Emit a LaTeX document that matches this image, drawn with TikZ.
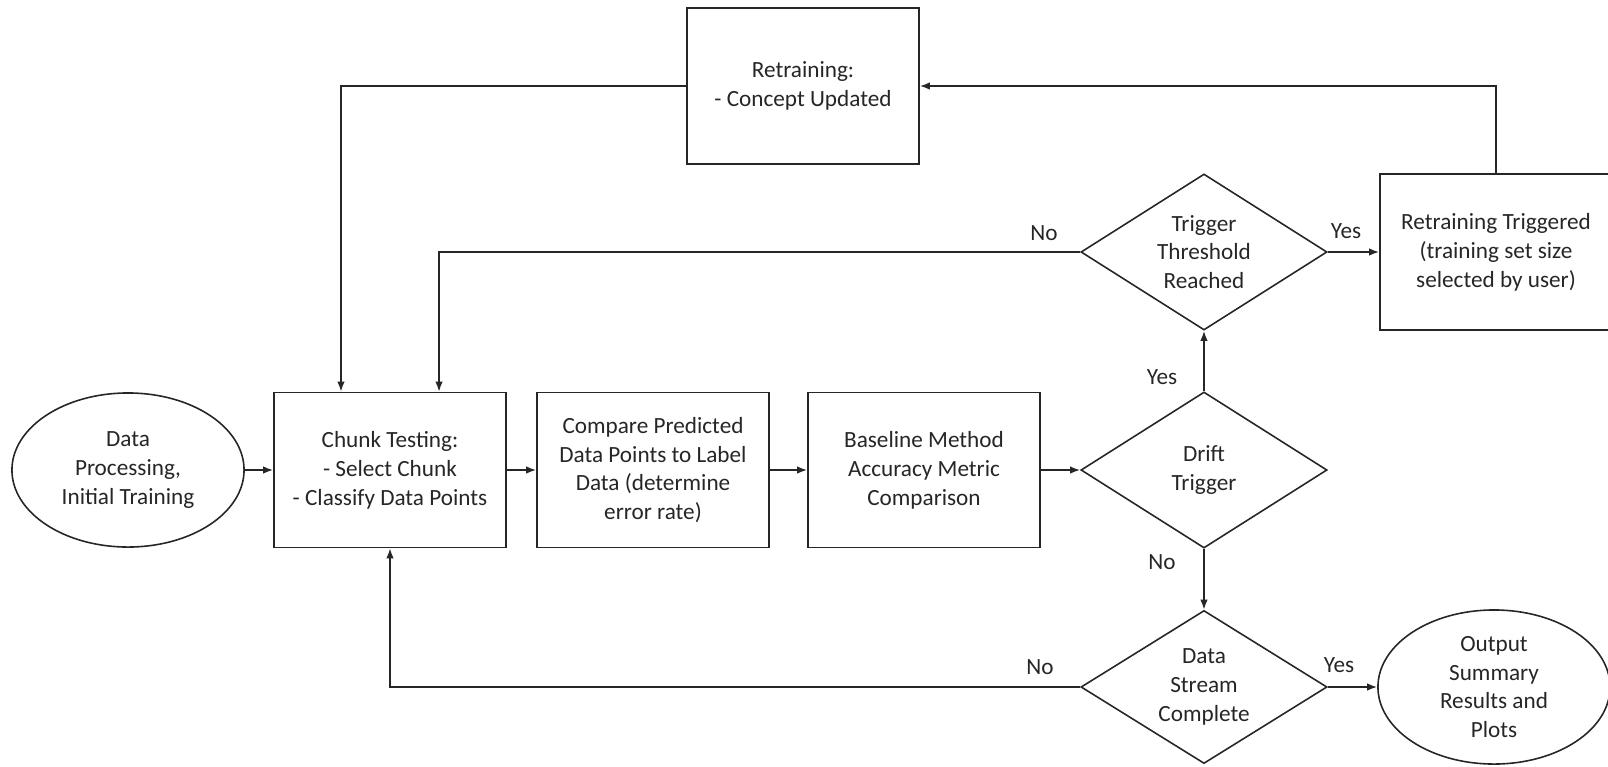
\documentclass[tikz,border=0pt]{standalone}
\usepackage{fontspec}
\setmainfont{Carlito}
\usetikzlibrary{shapes.geometric,arrows.meta}
\definecolor{ink}{HTML}{262626}

\begin{document}
\begin{tikzpicture}[x=0.01cm, y=-0.01cm,
    font=\fontsize{6.6}{8.2}\selectfont, text=ink,
    procbox/.style={draw=ink, line width=0.45pt, minimum width=2.32cm, minimum height=1.55cm, inner sep=0pt, align=center},
    ovalbox/.style={draw=ink, line width=0.45pt, ellipse, minimum width=2.32cm, minimum height=1.54cm, inner sep=0pt, align=center},
    choice/.style={draw=ink, line width=0.45pt, diamond, shape aspect=1.55, minimum width=2.46cm, minimum height=1.56cm, inner sep=0pt, align=center},
    flow/.style={draw=ink, line width=0.45pt, -{Latex[length=1mm,width=0.75mm]}},
    answer/.style={inner sep=0pt}]

    \useasboundingbox (0,0) rectangle (1608,766);

    % MAIN ROW (left to right)
    \node[ovalbox] (start) at (128,470) {Data\\Processing,\\Initial Training};
    \node[procbox] (chunk) at (390,470) {Chunk Testing:\\- Select Chunk\\- Classify Data Points};
    \node[procbox] (compare) at (653,470) {Compare Predicted\\Data Points to Label\\Data (determine\\error rate)};
    \node[procbox] (baseline) at (924,470) {Baseline Method\\Accuracy Metric\\Comparison};
    \node[choice] (drift) at (1204,470) {Drift\\Trigger};

    % UPPER BRANCH
    \node[choice] (thresh) at (1204,252) {Trigger\\Threshold\\Reached};
    \node[procbox, minimum height=1.56cm] (retrig) at (1496,252) {Retraining Triggered\\(training set size\\selected by user)};
    \node[procbox, minimum height=1.56cm] (retrain) at (803,86) {Retraining:\\- Concept Updated};

    % LOWER BRANCH
    \node[choice, minimum height=1.53cm] (done) at (1204,687) {Data\\Stream\\Complete};
    \node[ovalbox] (output) at (1494,687) {Output\\Summary\\Results and\\Plots};

    % ARROWS ALONG THE ROW
    \draw[flow] (start) -- (chunk);
    \draw[flow] (chunk) -- (compare);
    \draw[flow] (compare) -- (baseline);
    \draw[flow] (baseline) -- (drift);

    % DRIFT DECISION
    \draw[flow] (drift) -- (thresh);
    \draw[flow] (drift) -- (done);

    % THRESHOLD DECISION AND RETRAINING LOOP
    \draw[flow] (thresh) -- (retrig);
    \draw[flow] (thresh.west) -| ([xshift=0.49cm]chunk.north);
    \draw[flow] (retrig.north) |- (retrain.east);
    \draw[flow] (retrain.west) -| ([xshift=-0.49cm]chunk.north);

    % END OF STREAM
    \draw[flow] (done) -- (output);
    \draw[flow] (done.west) -| (chunk.south);

    % YES / NO LABELS
    \node[answer] (driftyes) at (1162,377) {Yes};
    \node[answer] (driftno) at (1162,562) {No};
    \node[answer] (threshno) at (1044,233) {No};
    \node[answer] (threshyes) at (1346,231) {Yes};
    \node[answer] (doneno) at (1040,667) {No};
    \node[answer] (doneyes) at (1339,665) {Yes};

\end{tikzpicture}
\end{document}
